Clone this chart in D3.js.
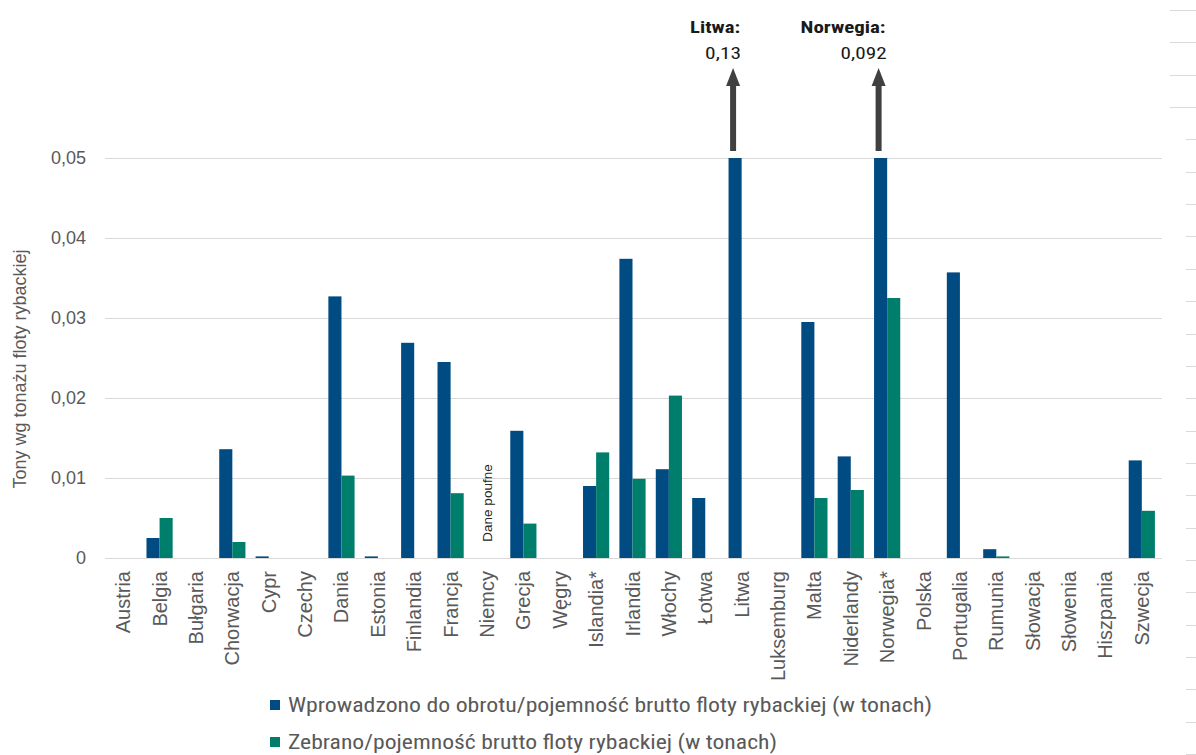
<!DOCTYPE html>
<html><head><meta charset="utf-8">
<script src="https://cdn.jsdelivr.net/npm/d3@7"></script>
<style>
body{margin:0;background:#fff;}
svg{display:block;}
text{font-family:"Liberation Sans",Arial,sans-serif;}
text.narrow{font-family:"Liberation Sans Narrow","Arial Narrow","Roboto Condensed","Liberation Sans",sans-serif;}
</style></head>
<body><svg id="c" width="1196" height="755"></svg>
<script>
const categories = ["Austria","Belgia","Bułgaria","Chorwacja","Cypr","Czechy","Dania","Estonia","Finlandia","Francja","Niemcy","Grecja","Węgry","Islandia*","Irlandia","Włochy","Łotwa","Litwa","Luksemburg","Malta","Niderlandy","Norwegia*","Polska","Portugalia","Rumunia","Słowacja","Słowenia","Hiszpania","Szwecja"];
const seriesNames = ["Wprowadzono do obrotu/pojemność brutto floty rybackiej (w tonach)","Zebrano/pojemność brutto floty rybackiej (w tonach)"];
const marketed = [0,0.0025,0,0.0136,0.0002,0,0.0327,0.0002,0.0269,0.0245,null,0.0159,0,0.009,0.0374,0.0111,0.0075,0.13,0,0.0295,0.0127,0.092,0,0.0357,0.0011,0,0,0,0.0122];
const harvested = [0,0.005,0,0.002,0,0,0.0103,0,0,0.0081,null,0.0043,0,0.0132,0.0099,0.0203,0,0,0,0.0075,0.0085,0.0325,0,0,0.0002,0,0,0,0.0059];
const yTicks = [0,0.01,0.02,0.03,0.04,0.05];
const yTickLabels = ["0","0,01","0,02","0,03","0,04","0,05"];
const yTitle = "Tony wg tonażu floty rybackiej";
const overflowNotes = [{cat:"Litwa", title:"Litwa:", value:"0,13"},{cat:"Norwegia*", title:"Norwegia:", value:"0,092"}];
const confidential = {cat:"Niemcy", text:"Dane poufne"};
const colors = ["#004B82","#007E6C"];

const svg = d3.select("#c");
const pLeft = 105, pRight = 1160, pTop = 158, pBottom = 558;
const yMax = 0.05;

const x = d3.scaleBand().domain(categories).range([pLeft,pRight]).paddingInner(0.28).paddingOuter(0.14);
const xs = d3.scaleBand().domain([0,1]).range([0,x.bandwidth()]);
const y = d3.scaleLinear().domain([0,yMax]).range([pBottom,pTop]);

function fit(sel, w){
  const n = sel.node(); const cur = n.getComputedTextLength();
  if (cur > 0) sel.attr("textLength", w).attr("lengthAdjust","spacingAndGlyphs");
  return sel;
}

// right-edge decorative dashes (sheet artefacts)
const dashY = d3.range(10, 756, 32.35);
svg.append("g").selectAll("line").data(dashY).join("line")
  .attr("x1",(d,i)=> i<4 ? 1170 : 1186).attr("x2",1196)
  .attr("y1",d=>Math.round(d)+0.5).attr("y2",d=>Math.round(d)+0.5)
  .attr("stroke","#d9d9d9").attr("stroke-width",1);

// gridlines
svg.append("g").selectAll("line").data(yTicks).join("line")
  .attr("x1",pLeft).attr("x2",pRight+2)
  .attr("y1",d=>Math.round(y(d))+0.5).attr("y2",d=>Math.round(y(d))+0.5)
  .attr("stroke","#d9d9d9").attr("stroke-width",1);

// y tick labels
svg.append("g").selectAll("text").data(yTicks).join("text")
  .attr("x",86).attr("y",d=>y(d)).attr("dy","0.35em")
  .attr("text-anchor","end").attr("fill","#595959").attr("font-size",18)
  .text((d,i)=>yTickLabels[i]);

// y title
svg.append("text").attr("transform",`translate(26,${(pTop+pBottom)/2+11}) rotate(-90)`)
  .attr("text-anchor","middle").attr("fill","#595959").attr("font-size",18)
  .text(yTitle);

// bars
const series = [marketed, harvested];
series.forEach((vals,si)=>{
  svg.append("g").selectAll("rect").data(categories.map((c,i)=>({c,v:vals[i]})).filter(d=>d.v!=null && d.v>0)).join("rect")
    .attr("x",d=>x(d.c)+xs(si)).attr("width",xs.bandwidth())
    .attr("y",d=>y(Math.min(d.v,yMax))).attr("height",d=>pBottom-y(Math.min(d.v,yMax)))
    .attr("fill",colors[si]);
});

// x labels
svg.append("g").selectAll("text").data(categories).join("text")
  .attr("transform",d=>`translate(${x(d)+x.bandwidth()/2},571) rotate(-90)`)
  .attr("dy","0.35em").attr("text-anchor","end").attr("fill","#595959").attr("font-size",20)
  .text(d=>d);

// confidential note
svg.append("text").attr("transform",`translate(${x(confidential.cat)+x.bandwidth()/2},503) rotate(-90)`)
  .attr("dy","0.35em").attr("text-anchor","middle").attr("fill","#262626").attr("font-size",13.5)
  .text(confidential.text);

// overflow arrows and labels
const noteW = {"Litwa:":50, "Norwegia:":85, "0,13":36, "0,092":46};
overflowNotes.forEach(n=>{
  const cx = x(n.cat)+xs(0)+xs.bandwidth()/2 - 2;
  const g = svg.append("g");
  g.append("rect").attr("x",cx-3).attr("y",84).attr("width",6).attr("height",y(yMax)-84-7).attr("fill","#404040");
  g.append("path").attr("d",`M${cx-7},86 L${cx},68 L${cx+7},86 Z`).attr("fill","#404040");
  fit(g.append("text").attr("class","narrow").attr("x",cx+7-noteW[n.title]).attr("y",33).attr("font-weight","bold").attr("fill","#1a1a1a").attr("font-size",16.5).text(n.title), noteW[n.title]);
  fit(g.append("text").attr("class","narrow").attr("x",cx+8-noteW[n.value]).attr("y",59).attr("fill","#1a1a1a").attr("font-size",16.5).text(n.value), noteW[n.value]);
});

// legend
const legendW = [644, 489];
const lg = svg.append("g");
seriesNames.forEach((s,i)=>{
  const ly = 705 + i*37;
  lg.append("rect").attr("x",270).attr("y",ly-5).attr("width",10).attr("height",10).attr("fill",colors[i]);
  fit(lg.append("text").attr("class","narrow").attr("x",288).attr("y",ly).attr("dy","0.35em").attr("fill","#595959").attr("font-size",20.5).text(s), legendW[i]);
});
</script></body></html>
